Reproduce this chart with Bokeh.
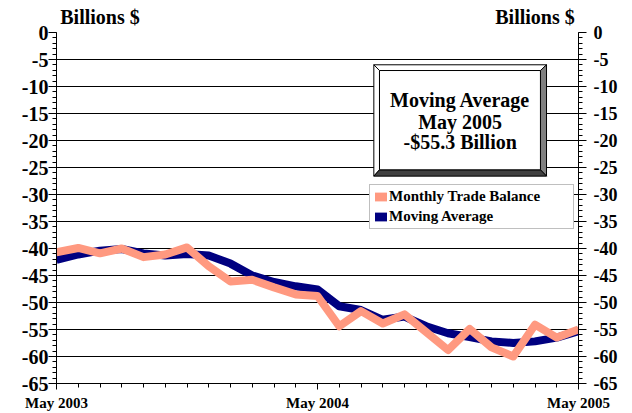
from bokeh.plotting import figure
from bokeh.models import (LinearAxis, FixedTicker, SingleIntervalTicker, Range1d,
                          Label, Legend, LegendItem, ColumnDataSource)
from bokeh.embed import file_html
from bokeh.resources import INLINE

# ---- data ----
months = ["May 2003", "Jun 2003", "Jul 2003", "Aug 2003", "Sep 2003", "Oct 2003",
          "Nov 2003", "Dec 2003", "Jan 2004", "Feb 2004", "Mar 2004", "Apr 2004",
          "May 2004", "Jun 2004", "Jul 2004", "Aug 2004", "Sep 2004", "Oct 2004",
          "Nov 2004", "Dec 2004", "Jan 2005", "Feb 2005", "Mar 2005", "Apr 2005",
          "May 2005"]
trade_balance = [-40.7, -39.9, -40.9, -40.0, -41.6, -41.1, -39.8, -43.3, -46.1, -45.8,
                 -47.2, -48.5, -48.8, -54.4, -51.6, -53.9, -52.2, -55.5, -58.8, -54.9,
                 -58.3, -60.0, -54.1, -56.5, -55.0]
moving_average = [-42.1, -41.1, -40.4, -40.1, -40.9, -41.3, -41.0, -41.3, -42.8, -45.0,
                  -46.2, -47.0, -47.6, -50.7, -51.4, -53.2, -52.6, -54.4, -55.7, -56.4,
                  -57.2, -57.5, -57.2, -56.5, -55.3]
labeled_ticks = [0, 12, 24]
y_ticks = [0, -5, -10, -15, -20, -25, -30, -35, -40, -45, -50, -55, -60, -65]
series_names = ["Monthly Trade Balance", "Moving Average"]
box_lines = ["Moving Average", "May 2005", "-$55.3 Billion"]
unit_label = "Billions $"

SALMON = "#FF9980"
NAVY = "#000080"
FONT = "Liberation Serif"
NAN = float("nan")

x = list(range(len(months)))
src = ColumnDataSource(dict(x=x, trade=trade_balance, mavg=moving_average))
y_overrides = {v: str(v) for v in y_ticks}

p = figure(frame_width=522, frame_height=351, output_backend="svg", toolbar_location=None,
           x_range=Range1d(0, len(months) - 1), y_range=Range1d(-65, 0),
           min_border_left=56, min_border_right=54, min_border_top=32, min_border_bottom=30)
p.outline_line_color = None
p.background_fill_color = "white"
p.border_fill_color = "white"

# bottom axis
p.xaxis.ticker = FixedTicker(ticks=labeled_ticks, minor_ticks=x)
p.xaxis.major_label_overrides = {i: months[i] for i in labeled_ticks}
p.xaxis.major_label_text_font = FONT
p.xaxis.major_label_text_font_style = "bold"
p.xaxis.major_label_text_font_size = "15px"
p.xaxis.major_label_text_color = "black"
p.xaxis.major_tick_out = 6
p.xaxis.major_tick_in = 0
p.xaxis.minor_tick_out = 4
p.xaxis.minor_tick_in = 0
p.xaxis.major_label_standoff = 5
p.xaxis.axis_line_color = "black"
p.xaxis.major_tick_line_color = "black"
p.xaxis.minor_tick_line_color = "black"

# left axis
yt = SingleIntervalTicker(interval=5, num_minor_ticks=5)
ax = p.yaxis[0]
ax.ticker = yt
ax.major_label_overrides = y_overrides
ax.major_label_text_font = FONT
ax.major_label_text_font_style = "bold"
ax.major_label_text_font_size = "20px"
ax.major_label_text_color = "black"
ax.major_tick_out = 8
ax.major_tick_in = 0
ax.minor_tick_out = 4
ax.minor_tick_in = 0
ax.major_label_standoff = 0
ax.axis_line_color = "black"

# right axis
ry = LinearAxis(ticker=SingleIntervalTicker(interval=5, num_minor_ticks=5))
ry.major_label_overrides = y_overrides
ry.major_label_text_font = FONT
ry.major_label_text_font_style = "bold"
ry.major_label_text_font_size = "18px"
ry.major_label_text_color = "black"
ry.major_tick_out = 8
ry.major_tick_in = 0
ry.minor_tick_out = 4
ry.minor_tick_in = 0
ry.major_label_standoff = 7
ry.axis_line_color = "black"
p.add_layout(ry, "right")

# top: unit labels as an invisible axis
top_ax = LinearAxis(ticker=FixedTicker(ticks=[2, 22], minor_ticks=[]),
                    major_label_overrides={2: unit_label, 22: unit_label})
top_ax.axis_line_color = None
top_ax.major_tick_line_color = None
top_ax.minor_tick_line_color = None
top_ax.major_tick_out = 0
top_ax.major_tick_in = 0
top_ax.major_label_standoff = 5
top_ax.major_label_text_font = FONT
top_ax.major_label_text_font_style = "bold"
top_ax.major_label_text_font_size = "20px"
top_ax.major_label_text_color = "black"
p.add_layout(top_ax, "above")

p.xgrid.grid_line_color = None
p.ygrid.ticker = yt
p.ygrid.grid_line_color = "black"
p.ygrid.grid_line_width = 1

# lines
r_ma = p.line("x", "mavg", source=src, line_color=NAVY, line_width=8, line_join="round")
r_tb = p.line("x", "trade", source=src, line_color=SALMON, line_width=8, line_join="round")

# beveled annotation box
X0, X1, Y0, Y1 = 14.59, 22.53, -26.6, -5.98
xi0, xi1, yi0, yi1 = 14.85, 22.25, -25.43, -7.04
p.patches(
    xs=[[X0, X1, xi1, xi0], [X0, xi0, xi0, X0], [X1, X1, xi1, xi1], [X0, xi0, xi1, X1]],
    ys=[[Y1, Y1, yi1, yi1], [Y1, yi1, yi0, Y0], [Y1, Y0, yi0, yi1], [Y0, yi0, yi0, Y0]],
    fill_color=["white", "white", "#808080", "#404040"], line_color="black", line_width=1)
p.quad(left=[xi0], right=[xi1], bottom=[yi0], top=[yi1], fill_color="white",
       line_color="black", line_width=1)
cx = (X0 + X1) / 2
for txt, yy in zip(box_lines, [-12.59, -16.57, -20.37]):
    p.add_layout(Label(x=cx, y=yy, text=txt, text_align="center", text_baseline="middle",
                       text_font=FONT, text_font_style="bold", text_font_size="20px",
                       text_color="black"))

# legend with square swatches
sw_tb = p.quad(left=[NAN], right=[NAN], top=[NAN], bottom=[NAN], fill_color=SALMON, line_color=None)
sw_ma = p.quad(left=[NAN], right=[NAN], top=[NAN], bottom=[NAN], fill_color=NAVY, line_color=None)
legend = Legend(items=[LegendItem(label=series_names[0], renderers=[sw_tb]),
                       LegendItem(label=series_names[1], renderers=[sw_ma])],
                location=(313, 154), orientation="vertical",
                label_text_font=FONT, label_text_font_style="bold",
                label_text_font_size="15px", label_text_color="black",
                glyph_width=15, glyph_height=11, label_height=17, label_width=181,
                label_standoff=1, spacing=3, padding=3, margin=0,
                border_line_color="#808080", border_line_width=1,
                background_fill_color="white", background_fill_alpha=1)
p.add_layout(legend, "center")

open("out.html", "w").write(file_html(p, INLINE))
